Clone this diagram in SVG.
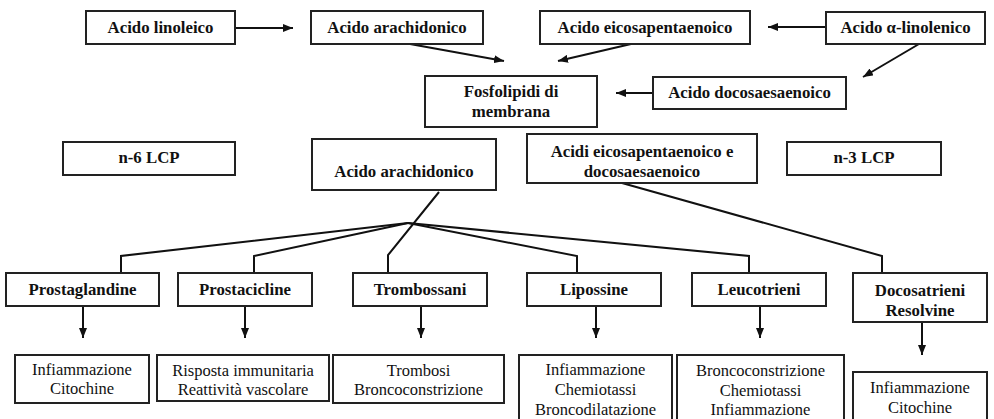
<svg xmlns="http://www.w3.org/2000/svg" width="994" height="419" viewBox="0 0 994 419">
<defs>
<marker id="ah" markerUnits="userSpaceOnUse" markerWidth="10" markerHeight="8" viewBox="0 0 10 8" refX="10" refY="4" orient="auto">
<path d="M0,0 L10,4 L0,8 z" fill="#111"/>
</marker>
<style>
.box{fill:#fff;stroke:#222;stroke-width:2}
text{font-family:'Liberation Serif','Times New Roman',Tinos,'DejaVu Serif',serif;fill:#111;text-anchor:middle}
.b{font-weight:bold;font-size:16.8px}
.r{font-size:16.5px}
.c{fill:none;stroke:#111;stroke-width:2}
.a{fill:none;stroke:#111;stroke-width:2;marker-end:url(#ah)}
</style>
</defs>
<rect width="994" height="419" fill="#fff"/>
<g id="connectors">
<line class="a" x1="235" y1="28" x2="293" y2="28"/>
<line class="a" x1="410" y1="44" x2="504" y2="61"/>
<line class="a" x1="631" y1="44" x2="558" y2="61"/>
<line class="a" x1="826" y1="27" x2="768" y2="27"/>
<line class="a" x1="919" y1="44" x2="863" y2="77"/>
<line class="a" x1="653" y1="93" x2="616" y2="93"/>
<polyline class="c" points="439,192 388,255 388,273"/>
<polyline class="c" points="408,223 121,256 121,273"/>
<polyline class="c" points="408,223 254,256 254,273"/>
<polyline class="c" points="408,223 577,256 577,273"/>
<polyline class="c" points="408,223 749,256 749,273"/>
<polyline class="c" points="622,183 882,256 882,273"/>
<line class="a" x1="83" y1="306" x2="83" y2="338"/>
<line class="a" x1="245" y1="306" x2="245" y2="338"/>
<line class="a" x1="421" y1="306" x2="421" y2="338"/>
<line class="a" x1="596" y1="306" x2="596" y2="338"/>
<line class="a" x1="760" y1="306" x2="760" y2="338"/>
<line class="a" x1="922" y1="322" x2="922" y2="355"/>
</g>
<g id="n_linoleico"><rect class="box" x="86" y="11" width="149" height="33"/><text class="b" x="160.5" y="33">Acido linoleico</text></g>
<g id="n_arachidonico1"><rect class="box" x="311" y="11" width="172" height="33"/><text class="b" x="397" y="33">Acido arachidonico</text></g>
<g id="n_eicosa"><rect class="box" x="540" y="11" width="210" height="33"/><text class="b" x="645" y="33">Acido eicosapentaenoico</text></g>
<g id="n_alfa"><rect class="box" x="826" y="12" width="159" height="32"/><text class="b" x="905.5" y="33">Acido α-linolenico</text></g>
<g id="n_fosfolipidi"><rect class="box" x="425" y="76" width="172" height="51"/><text class="b" x="511" y="97">Fosfolipidi di</text><text class="b" x="511" y="117">membrana</text></g>
<g id="n_docosa"><rect class="box" x="653" y="77" width="193" height="32"/><text class="b" x="749.5" y="98">Acido docosaesaenoico</text></g>
<g id="n_n6"><rect class="box" x="63" y="142" width="172" height="33"/><text class="b" x="149" y="163">n-6 LCP</text></g>
<g id="n_arachidonico2"><rect class="box" x="312" y="139" width="184" height="51"/><text class="b" x="404" y="177">Acido arachidonico</text></g>
<g id="n_acidi"><rect class="box" x="527" y="134" width="230" height="49"/><text class="b" x="642" y="157">Acidi eicosapentaenoico e</text><text class="b" x="642" y="177">docosaesaenoico</text></g>
<g id="n_n3"><rect class="box" x="787" y="142" width="154" height="33"/><text class="b" x="864" y="163">n-3 LCP</text></g>
<g id="n_prostaglandine"><rect class="box" x="6" y="273" width="153" height="33"/><text class="b" x="82.5" y="295">Prostaglandine</text></g>
<g id="n_prostacicline"><rect class="box" x="178" y="273" width="134" height="33"/><text class="b" x="245" y="295">Prostacicline</text></g>
<g id="n_trombossani"><rect class="box" x="353" y="273" width="134" height="33"/><text class="b" x="420" y="295">Trombossani</text></g>
<g id="n_lipossine"><rect class="box" x="527" y="273" width="134" height="33"/><text class="b" x="594" y="295">Lipossine</text></g>
<g id="n_leucotrieni"><rect class="box" x="692" y="273" width="134" height="33"/><text class="b" x="759" y="295">Leucotrieni</text></g>
<g id="n_docosatrieni"><rect class="box" x="853" y="273" width="134" height="49"/><text class="b" x="920" y="296">Docosatrieni</text><text class="b" x="920" y="316">Resolvine</text></g>
<g id="e_prostaglandine"><rect class="box" x="15" y="355" width="134" height="48"/><text class="r" x="82" y="375">Infiammazione</text><text class="r" x="82" y="394">Citochine</text></g>
<g id="e_prostacicline"><rect class="box" x="157" y="355" width="172" height="46"/><text class="r" x="243" y="376">Risposta immunitaria</text><text class="r" x="243" y="395">Reattività vascolare</text></g>
<g id="e_trombossani"><rect class="box" x="333" y="355" width="171" height="48"/><text class="r" x="418.5" y="376">Trombosi</text><text class="r" x="418.5" y="395">Broncoconstrizione</text></g>
<g id="e_lipossine"><rect class="box" x="519" y="355" width="153" height="72"/><text class="r" x="595.5" y="375">Infiammazione</text><text class="r" x="595.5" y="395">Chemiotassi</text><text class="r" x="595.5" y="415">Broncodilatazione</text></g>
<g id="e_leucotrieni"><rect class="box" x="677" y="355" width="167" height="72"/><text class="r" x="760.5" y="376">Broncoconstrizione</text><text class="r" x="760.5" y="396">Chemiotassi</text><text class="r" x="760.5" y="415">Infiammazione</text></g>
<g id="e_docosatrieni"><rect class="box" x="853" y="372" width="134" height="55"/><text class="r" x="920" y="393">Infiammazione</text><text class="r" x="920" y="413">Citochine</text></g>
</svg>
